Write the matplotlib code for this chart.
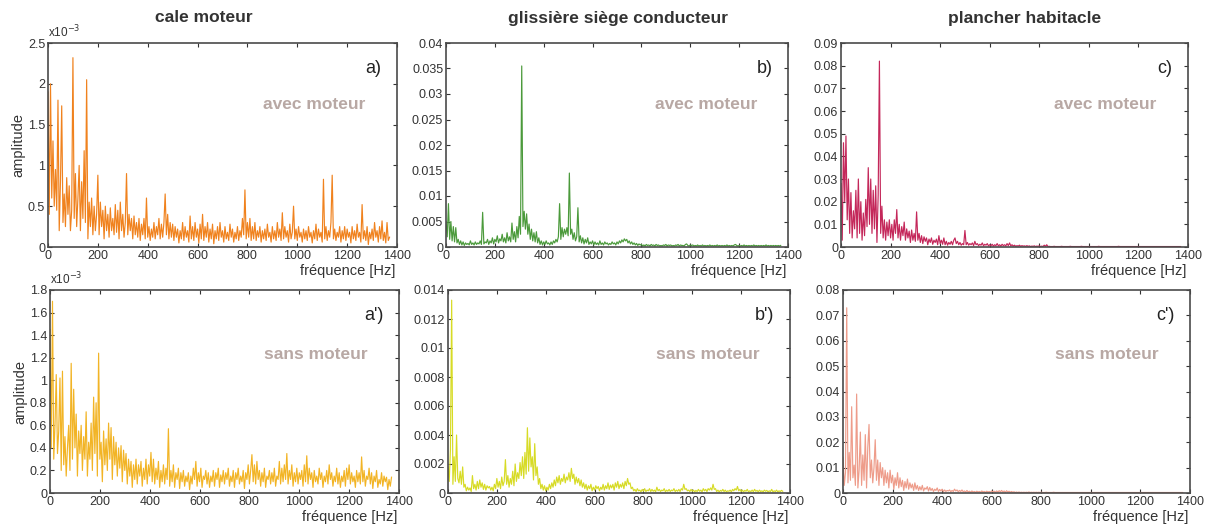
import numpy as np
import matplotlib
matplotlib.use("Agg")
import matplotlib.pyplot as plt
from matplotlib.ticker import FuncFormatter

plt.rcParams['font.family'] = ['Liberation Sans', 'DejaVu Sans']

# spectres lus sur la figure, pas de 5 Hz (0 -> 1370 Hz)
FREQ_STEP = 5

# cale moteur, avec moteur (unite 1e-5)
amp_a = [
    190, 40, 200, 60, 130, 50, 95, 45, 180, 20, 80, 173, 30, 65, 25, 85, 40, 75, 20, 45,
    232, 35, 90, 25, 60, 100, 20, 80, 35, 118, 30, 205, 10, 55, 25, 60, 15, 50, 20, 40,
    88, 15, 55, 25, 45, 10, 50, 20, 40, 12, 48, 20, 35, 15, 52, 18, 45, 10, 55, 20,
    40, 12, 30, 90, 15, 40, 20, 35, 10, 38, 15, 30, 12, 35, 8, 28, 15, 35, 10, 60,
    12, 25, 8, 22, 12, 30, 10, 25, 15, 35, 10, 28, 12, 30, 65, 15, 40, 10, 30, 12,
    28, 8, 25, 12, 22, 5, 20, 10, 30, 8, 25, 12, 20, 6, 38, 10, 25, 8, 30, 12,
    22, 5, 28, 10, 40, 8, 25, 12, 30, 6, 22, 10, 28, 4, 20, 10, 25, 8, 30, 12,
    20, 6, 25, 10, 18, 8, 28, 12, 22, 6, 18, 10, 25, 8, 20, 12, 35, 15, 70, 10,
    30, 12, 35, 8, 25, 10, 30, 8, 20, 12, 25, 6, 20, 10, 22, 8, 28, 12, 18, 6,
    25, 10, 20, 8, 30, 12, 22, 8, 42, 10, 25, 12, 20, 6, 28, 10, 18, 50, 10, 22,
    8, 25, 12, 18, 6, 22, 10, 20, 8, 25, 12, 18, 5, 20, 10, 28, 8, 22, 12, 18,
    6, 83, 10, 25, 8, 20, 12, 30, 88, 10, 22, 8, 18, 12, 25, 6, 20, 10, 25, 8,
    22, 12, 18, 5, 25, 10, 20, 8, 28, 12, 18, 6, 52, 10, 20, 8, 25, 3, 18, 10,
    22, 8, 30, 12, 20, 6, 25, 10, 32, 8, 18, 5, 30, 8, 12,
]

# cale moteur, sans moteur (unite 1e-5)
amp_a2 = [
    145, 40, 170, 30, 60, 105, 35, 55, 102, 20, 108, 25, 50, 15, 40, 60, 20, 115, 30, 92,
    40, 70, 15, 55, 35, 60, 20, 50, 30, 72, 15, 45, 30, 62, 20, 85, 35, 80, 15, 124,
    30, 45, 10, 55, 25, 48, 20, 62, 30, 58, 12, 50, 25, 45, 15, 40, 22, 42, 10, 38,
    20, 35, 8, 30, 15, 28, 5, 25, 12, 30, 8, 25, 15, 28, 6, 22, 12, 30, 8, 25,
    15, 36, 10, 30, 8, 22, 12, 28, 5, 20, 10, 25, 8, 22, 12, 57, 6, 20, 10, 25,
    5, 18, 12, 22, 4, 18, 10, 20, 6, 15, 10, 18, 3, 15, 8, 22, 12, 28, 6, 18,
    10, 22, 5, 15, 12, 20, 8, 18, 5, 15, 10, 20, 6, 18, 12, 22, 5, 16, 10, 20,
    8, 18, 12, 22, 6, 15, 10, 20, 5, 18, 12, 22, 8, 15, 10, 20, 4, 18, 12, 25,
    8, 20, 34, 10, 25, 8, 28, 12, 20, 6, 18, 10, 22, 5, 15, 12, 20, 8, 18, 10,
    22, 6, 15, 12, 28, 8, 22, 10, 25, 12, 35, 8, 20, 12, 25, 6, 18, 10, 22, 8,
    18, 12, 20, 6, 25, 10, 33, 8, 22, 12, 18, 5, 20, 10, 15, 8, 22, 12, 18, 5,
    15, 10, 20, 8, 25, 12, 18, 6, 15, 10, 22, 8, 18, 5, 15, 10, 20, 6, 22, 12,
    25, 8, 18, 10, 15, 5, 20, 10, 18, 8, 32, 10, 20, 6, 15, 12, 22, 8, 18, 4,
    15, 10, 20, 5, 12, 8, 18, 6, 15, 10, 14, 3, 12, 6, 14,
]

# glissiere siege conducteur, avec moteur (unite 1e-4)
amp_b = [
    50, 20, 85, 15, 50, 12, 40, 10, 38, 8, 15, 5, 12, 4, 10, 3, 8, 5, 7, 4,
    12, 5, 8, 4, 10, 5, 8, 6, 12, 5, 68, 6, 10, 8, 15, 5, 12, 8, 18, 6,
    15, 10, 22, 8, 16, 12, 25, 10, 18, 8, 28, 12, 20, 10, 47, 15, 30, 10, 40, 18,
    60, 25, 355, 40, 70, 35, 65, 25, 45, 15, 35, 12, 28, 10, 30, 8, 18, 5, 12, 4,
    10, 5, 12, 6, 8, 4, 10, 5, 12, 8, 15, 10, 20, 85, 15, 38, 20, 35, 25, 38,
    22, 145, 25, 35, 15, 28, 12, 20, 77, 10, 22, 8, 18, 6, 15, 8, 18, 5, 10, 6,
    12, 4, 10, 5, 8, 4, 12, 5, 8, 4, 10, 6, 8, 4, 7, 5, 10, 6, 8, 4,
    10, 6, 12, 8, 14, 10, 16, 12, 15, 8, 12, 6, 10, 5, 8, 4, 7, 3, 6, 4,
    5, 2, 4, 2, 5, 3, 4, 2, 5, 3, 4, 2, 5, 3, 4, 2, 3, 2, 4, 3,
    5, 2, 4, 3, 4, 2, 3, 2, 4, 3, 5, 2, 4, 3, 3, 2, 5, 6, 3, 2,
    4, 3, 4, 2, 3, 2, 4, 2, 3, 2, 4, 2, 3, 2, 3, 2, 4, 2, 3, 2,
    3, 2, 4, 2, 3, 2, 3, 2, 3, 2, 4, 2, 3, 2, 3, 2, 4, 5, 3, 2,
    3, 2, 3, 2, 4, 2, 3, 2, 3, 2, 3, 2, 4, 2, 3, 2, 3, 2, 3, 2,
    3, 2, 4, 2, 3, 2, 3, 2, 3, 2, 3, 2, 3, 2, 3,
]

# glissiere siege conducteur, sans moteur (unite 1e-5)
amp_b2 = [
    180, 80, 300, 1330, 60, 250, 80, 400, 100, 70, 150, 60, 180, 40, 60, 15, 40, 20, 35, 10,
    120, 30, 60, 20, 80, 30, 90, 40, 70, 25, 60, 20, 50, 35, 45, 20, 40, 15, 60, 30,
    100, 40, 80, 30, 110, 50, 80, 230, 60, 120, 40, 100, 60, 150, 50, 200, 80, 140, 100, 210,
    120, 250, 100, 280, 130, 450, 150, 380, 180, 250, 90, 340, 120, 180, 60, 100, 30, 60, 20, 50,
    15, 40, 20, 60, 30, 70, 40, 90, 50, 110, 70, 120, 60, 100, 80, 130, 70, 110, 90, 140,
    80, 170, 100, 130, 60, 110, 70, 100, 50, 90, 40, 70, 30, 60, 20, 50, 30, 60, 15, 40,
    20, 50, 30, 45, 15, 40, 25, 60, 20, 50, 30, 70, 25, 55, 35, 60, 20, 70, 40, 80,
    30, 60, 40, 70, 30, 80, 50, 100, 60, 70, 30, 40, 15, 25, 10, 30, 15, 20, 8, 25,
    12, 30, 10, 20, 15, 30, 10, 25, 12, 20, 8, 40, 15, 25, 10, 20, 15, 30, 8, 20,
    12, 25, 10, 20, 15, 30, 10, 20, 12, 25, 10, 30, 20, 60, 25, 30, 15, 20, 10, 25,
    12, 20, 8, 18, 10, 25, 12, 20, 8, 30, 15, 25, 10, 30, 20, 35, 20, 60, 25, 30,
    10, 20, 8, 18, 12, 25, 10, 20, 8, 15, 12, 20, 8, 25, 15, 30, 20, 45, 15, 25,
    10, 20, 8, 18, 12, 25, 8, 15, 10, 20, 8, 25, 12, 18, 8, 20, 10, 15, 8, 20,
    12, 18, 8, 15, 10, 25, 8, 15, 10, 20, 8, 15, 10, 18, 12,
]

# plancher habitacle, avec moteur (unite 1e-4)
amp_c = [
    280, 30, 460, 200, 490, 120, 300, 60, 240, 40, 160, 80, 250, 40, 300, 60, 200, 30, 150, 50,
    210, 90, 350, 100, 300, 60, 250, 80, 270, 20, 230, 820, 60, 180, 40, 120, 30, 110, 50, 120,
    40, 100, 30, 120, 60, 165, 40, 100, 30, 90, 50, 110, 30, 80, 40, 70, 20, 75, 30, 60,
    25, 155, 30, 60, 20, 50, 15, 45, 25, 40, 10, 35, 20, 40, 12, 30, 20, 35, 10, 50,
    15, 30, 12, 40, 10, 25, 8, 20, 12, 25, 10, 30, 40, 15, 25, 10, 20, 8, 15, 10,
    73, 10, 20, 8, 15, 10, 18, 6, 25, 10, 15, 6, 12, 8, 18, 5, 12, 8, 15, 5,
    10, 6, 12, 4, 10, 6, 15, 5, 10, 4, 12, 6, 10, 5, 15, 6, 18, 5, 10, 4,
    8, 3, 6, 4, 8, 3, 6, 4, 5, 3, 6, 3, 5, 2, 4, 3, 5, 2, 4, 3,
    5, 2, 4, 2, 8, 3, 10, 2, 3, 2, 2, 2, 3, 2, 2, 2, 2, 2, 3, 2,
    2, 2, 2, 2, 2, 3, 2, 2, 2, 2, 2, 2, 2, 2, 3, 2, 2, 2, 2, 2,
    2, 2, 2, 2, 2, 2, 2, 2, 3, 2, 2, 2, 2, 2, 2, 2, 2, 2, 2, 2,
    2, 2, 2, 2, 3, 2, 2, 2, 2, 2, 2, 2, 2, 2, 2, 2, 2, 2, 2, 2,
    2, 2, 2, 2, 2, 2, 2, 2, 2, 2, 2, 2, 2, 2, 2, 2, 2, 2, 2, 2,
    2, 2, 2, 2, 2, 2, 2, 2, 2, 2, 2, 2, 2, 2, 2,
]

# plancher habitacle, sans moteur (unite 1e-4)
amp_c2 = [
    140, 30, 80, 730, 40, 160, 50, 340, 60, 110, 30, 390, 20, 90, 240, 30, 150, 50, 230, 20,
    180, 270, 60, 130, 40, 100, 210, 50, 130, 30, 120, 60, 100, 30, 90, 40, 80, 20, 90, 40,
    70, 15, 60, 30, 80, 20, 60, 25, 50, 10, 45, 20, 55, 15, 40, 20, 35, 10, 40, 15,
    30, 10, 25, 12, 30, 8, 20, 15, 25, 8, 22, 10, 18, 6, 15, 10, 20, 6, 14, 8,
    15, 5, 12, 6, 10, 8, 12, 5, 10, 6, 15, 8, 12, 5, 10, 6, 12, 5, 8, 4,
    10, 4, 7, 3, 8, 4, 6, 3, 7, 4, 6, 3, 8, 4, 6, 3, 7, 4, 6, 3,
    8, 4, 7, 3, 8, 4, 9, 5, 10, 4, 8, 3, 9, 4, 7, 3, 6, 3, 5, 2,
    4, 2, 4, 2, 3, 2, 3, 2, 3, 2, 4, 2, 3, 2, 3, 2, 3, 2, 3, 2,
    3, 2, 2, 2, 3, 2, 2, 2, 2, 2, 3, 2, 2, 2, 2, 2, 2, 2, 2, 2,
    2, 2, 2, 2, 2, 2, 2, 2, 2, 2, 2, 2, 2, 2, 2, 2, 2, 2, 2, 2,
    2, 2, 2, 2, 2, 2, 2, 2, 2, 2, 2, 2, 2, 2, 2, 2, 2, 2, 2, 2,
    2, 2, 2, 2, 2, 2, 2, 2, 2, 2, 2, 2, 2, 2, 2, 2, 2, 2, 2, 2,
    2, 2, 2, 2, 2, 2, 2, 2, 2, 2, 2, 2, 2, 2, 2, 2, 2, 2, 2, 2,
    2, 2, 2, 2, 2, 2, 2, 2, 2, 2, 2, 2, 2, 2, 2,
]

titles = ["cale moteur", "glissière siège conducteur", "plancher habitacle"]
labels = ["a)", "b)", "c)", "a')", "b')", "c')"]
states = ["avec moteur", "sans moteur"]
colors = ["#F0821E", "#4B9A3B", "#C4275A", "#F2B425", "#D7DB25", "#EE9C8A"]

# (donnees, facteur d'echelle, ymax, pas des graduations y)
panels = [
    (amp_a, 1e-2, 2.5, 0.5),
    (amp_b, 1e-4, 0.04, 0.005),
    (amp_c, 1e-4, 0.09, 0.01),
    (amp_a2, 1e-2, 1.8, 0.2),
    (amp_b2, 1e-5, 0.014, 0.002),
    (amp_c2, 1e-4, 0.08, 0.01),
]

W, H = 1217, 526
fig = plt.figure(figsize=(W / 100, H / 100), dpi=100)

lefts = [48, 446, 841]
rights = [397, 788, 1188]
rows = [(43, 247), (290, 493)]

for k, (amp, scale, ymax, ystep) in enumerate(panels):
    r, c = divmod(k, 3)
    x0, x1 = lefts[c] + (2 if r else 0), rights[c] + (2 if r else 0)
    y0, y1 = rows[r]
    ax = fig.add_axes([x0 / W, 1 - y1 / H, (x1 - x0) / W, (y1 - y0) / H])
    vals = np.array(amp) * scale
    freq = np.arange(len(vals)) * FREQ_STEP
    ax.plot(freq, vals, color=colors[k], lw=0.85)
    ax.set_xlim(0, 1400)
    ax.set_ylim(0, ymax)
    ax.set_xticks(range(0, 1401, 200))
    ax.set_yticks(np.arange(0, ymax + ystep / 2, ystep))
    ax.yaxis.set_major_formatter(FuncFormatter(lambda v, p: "%g" % round(v, 6)))
    ax.tick_params(direction="in", top=True, right=True, length=3, width=0.8,
                   labelsize=9, colors="#333333", pad=2)
    for s in ax.spines.values():
        s.set_color("#4a4a4a")
        s.set_linewidth(1.2)
    ax.set_xlabel("fréquence [Hz]", fontsize=10.5, color="#333333", labelpad=1)
    ax.xaxis.set_label_coords(0.995, -0.085)
    ax.xaxis.label.set_horizontalalignment("right")
    if c == 0:
        ax.set_ylabel("amplitude", fontsize=10.5, color="#333333", labelpad=2)
        ax.text(0.0, 1.015, r"x10$^{-3}$", transform=ax.transAxes, fontsize=8.5,
                color="#333333", ha="left", va="bottom")
    ax.text(0.955, 0.875, labels[k], transform=ax.transAxes, fontsize=13,
            ha="right", va="center", color="#222222")
    ax.text(0.91, 0.70 if r == 0 else 0.68, states[r], transform=ax.transAxes,
            fontsize=12.5, fontweight="bold", ha="right", va="center", color="#B8A8A4")
    if r == 0:
        fig.text([204, 618, 1025][c] / W, 1 - 18 / H, titles[c], fontsize=12.5,
                 fontweight="bold", ha="center", va="center", color="#333333")

fig.savefig("out.png", dpi=100)
